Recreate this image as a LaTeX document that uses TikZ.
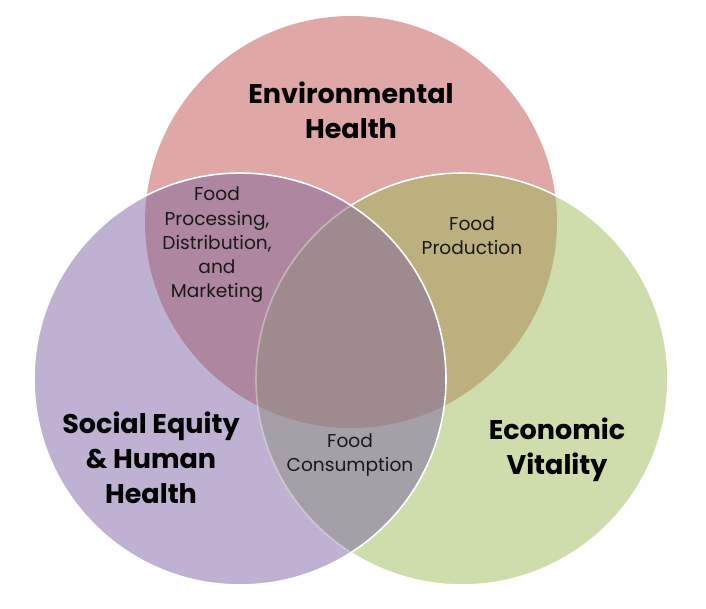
\documentclass[tikz,border=0pt]{standalone}
\usepackage{fontspec}
\setmainfont{Poppins}
\definecolor{cred}{HTML}{DFA7A6}
\definecolor{cpur}{HTML}{BFB1D1}
\definecolor{cgrn}{HTML}{CFDDAC}
\definecolor{crg}{HTML}{BDB07F}
\definecolor{crp}{HTML}{AF86A0}
\definecolor{cpg}{HTML}{A5A0A8}
\definecolor{call}{HTML}{9E8A8F}
\tikzset{
  big/.style={align=center,font=\fontsize{27}{35}\selectfont\bfseries,text=black,inner sep=0pt},
  small/.style={align=center,font=\fontsize{18.6}{24.3}\selectfont,text=black!90,inner sep=0pt},
  edge/.style={draw=white,line width=1.6pt}
}
\begin{document}
\begin{tikzpicture}[x=1pt,y=-1pt]
\useasboundingbox (0,0) rectangle (706,608);
\def\rr{206pt}
\coordinate (cR) at (351,222);
\coordinate (cP) at (240,379);
\coordinate (cG) at (462,379);
% red circle
\fill[cred] (cR) circle[radius=\rr];
% green circle
\fill[cgrn] (cG) circle[radius=\rr];
\begin{scope}
  \clip (cR) circle[radius=\rr];
  \fill[crg] (cG) circle[radius=\rr];
\end{scope}
\draw[edge] (cG) circle[radius=\rr];
% purple circle
\fill[cpur] (cP) circle[radius=\rr];
\begin{scope}
  \clip (cP) circle[radius=\rr];
  \fill[crp] (cR) circle[radius=\rr];
  \fill[cpg] (cG) circle[radius=\rr];
  \clip (cR) circle[radius=\rr];
  \fill[call] (cG) circle[radius=\rr];
\end{scope}
\begin{scope}
  \clip (cP) circle[radius=\rr];
  \draw[draw=white,opacity=0.35,line width=1.6pt] (cG) circle[radius=\rr];
\end{scope}
\draw[edge] (cP) circle[radius=\rr];
% labels
\node[big] (env) at (351,110) {Environmental\\Health};
\node[big] (soc) at (151,458) {Social Equity\\\& Human\\Health};
\node[big] (eco) at (557,450) {Economic\\Vitality};
\node[small] (proc) at (217,245) {Food\\Processing,\\Distribution,\\and\\Marketing};
\node[small] (prod) at (472,236) {Food\\Production};
\node[small] (cons) at (350,455) {Food\\Consumption};
\end{tikzpicture}
\end{document}
